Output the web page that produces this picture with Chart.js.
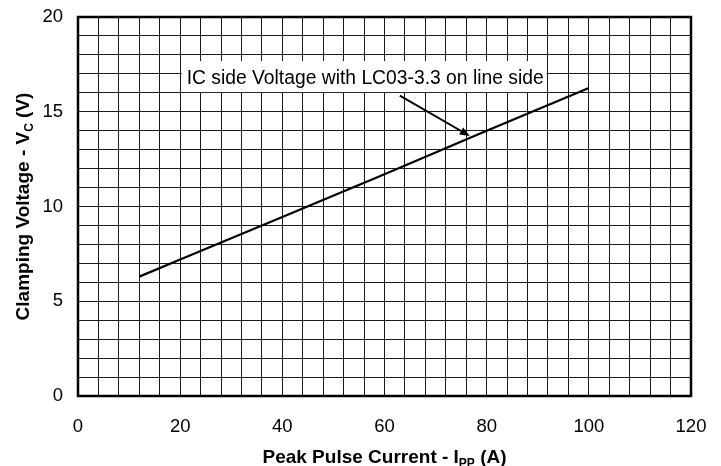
<!DOCTYPE html>
<html>
<head>
<meta charset="utf-8">
<script src="https://cdn.jsdelivr.net/npm/chart.js@4.4.1/dist/chart.umd.min.js"></script>
<style>
  html, body { margin: 0; padding: 0; background: #fff; }
  #wrap { width: 721px; height: 466px; }
</style>
</head>
<body>
<div id="wrap"><canvas id="chart" width="721" height="466"></canvas></div>
<script>
// data
const currentA = [12, 20, 40, 60, 80, 100];
const clampV = [6.3, 7.2, 9.45, 11.7, 14.0, 16.25];

const xTickLabels = [0, 20, 40, 60, 80, 100, 120];
const yTickLabels = [0, 5, 10, 15, 20];

const noteText = 'IC side Voltage with LC03-3.3 on line side';
const noteAt = { x: 20.3, y: 16.83 };       // left edge / middle of the label box
const arrowFrom = { x: 63.0, y: 15.85 };
const arrowTo = { x: 76.7, y: 13.72 };

const FONT = '"Liberation Sans", Arial, sans-serif';

function drawSubText(ctx, parts, x, y, align) {
  // parts: [text, isSub]
  const fontOf = p => p[1] ? 'bold 12px ' + FONT : 'bold 19px ' + FONT;
  const widths = parts.map(p => {
    ctx.font = fontOf(p);
    return ctx.measureText(p[0]).width;
  });
  const total = widths.reduce((a, b) => a + b, 0);
  let cx = align === 'center' ? x - total / 2 : x;
  parts.forEach((p, i) => {
    ctx.font = fontOf(p);
    ctx.fillText(p[0], cx, p[1] ? y + 4 : y);
    cx += widths[i];
  });
}

const decorPlugin = {
  id: 'decor',
  afterDatasetsDraw(chart) {
    const { ctx, chartArea: a, scales } = chart;
    const sx = scales.x, sy = scales.y;
    ctx.save();

    // frame
    ctx.strokeStyle = '#000';
    ctx.lineWidth = 2.5;
    ctx.strokeRect(a.left, a.top, a.right - a.left, a.bottom - a.top);

    // note box
    ctx.font = '19.3px ' + FONT;
    const tw = ctx.measureText(noteText).width;
    const bx = sx.getPixelForValue(noteAt.x);
    const by = sy.getPixelForValue(noteAt.y);
    ctx.fillStyle = '#fff';
    ctx.fillRect(bx, by - 16, tw + 8, 31);
    ctx.fillStyle = '#000';
    ctx.textBaseline = 'alphabetic';
    ctx.textAlign = 'left';
    ctx.fillText(noteText, bx + 5, by + 7);

    // arrow
    const x1 = sx.getPixelForValue(arrowFrom.x), y1 = sy.getPixelForValue(arrowFrom.y);
    const x2 = sx.getPixelForValue(arrowTo.x), y2 = sy.getPixelForValue(arrowTo.y);
    const ang = Math.atan2(y2 - y1, x2 - x1);
    ctx.lineWidth = 2;
    ctx.beginPath();
    ctx.moveTo(x1, y1);
    ctx.lineTo(x2 - 7 * Math.cos(ang), y2 - 7 * Math.sin(ang));
    ctx.stroke();
    ctx.beginPath();
    ctx.moveTo(x2, y2);
    ctx.lineTo(x2 - 10 * Math.cos(ang) + 4 * Math.sin(ang), y2 - 10 * Math.sin(ang) - 4 * Math.cos(ang));
    ctx.lineTo(x2 - 10 * Math.cos(ang) - 4 * Math.sin(ang), y2 - 10 * Math.sin(ang) + 4 * Math.cos(ang));
    ctx.closePath();
    ctx.fill();
    ctx.restore();
  },
  afterDraw(chart) {
    const { ctx, chartArea: a } = chart;
    ctx.save();
    ctx.fillStyle = '#000';
    ctx.textBaseline = 'alphabetic';
    ctx.textAlign = 'left';
    // x title
    drawSubText(ctx, [['Peak Pulse Current - I', false], ['PP', true], [' (A)', false]],
      (a.left + a.right) / 2, 463, 'center');
    // y title
    ctx.translate(29, (a.top + a.bottom) / 2);
    ctx.rotate(-Math.PI / 2);
    drawSubText(ctx, [['Clamping Voltage - V', false], ['C', true], [' (V)', false]], 0, 0, 'center');
    ctx.restore();
  }
};

new Chart(document.getElementById('chart'), {
  type: 'line',
  data: {
    datasets: [{
      data: currentA.map((x, i) => ({ x: x, y: clampV[i] })),
      borderColor: '#000',
      borderWidth: 2.2,
      pointRadius: 0,
      tension: 0,
      fill: false
    }]
  },
  options: {
    responsive: false,
    animation: false,
    layout: { padding: { top: 17, right: 30, left: 0, bottom: 0 } },
    plugins: {
      legend: { display: false },
      tooltip: { enabled: false }
    },
    scales: {
      x: {
        type: 'linear',
        min: 0,
        max: 120,
        afterFit: s => {
          s.height = 70;
          s.paddingLeft = 0;
          s.paddingRight = 0;
        },
        grid: { color: '#1a1a1a', lineWidth: 1, drawTicks: false },
        border: { display: false },
        ticks: {
          stepSize: 4,
          autoSkip: false,
          maxRotation: 0,
          padding: 20,
          color: '#000',
          font: { family: FONT, size: 18.5 },
          callback: v => xTickLabels.includes(v) ? String(v) : ''
        }
      },
      y: {
        type: 'linear',
        min: 0,
        max: 20,
        afterFit: s => {
          s.width = 78;
          s.paddingTop = 0;
          s.paddingBottom = 0;
        },
        grid: { color: '#1a1a1a', lineWidth: 1, drawTicks: false },
        border: { display: false },
        ticks: {
          stepSize: 1,
          autoSkip: false,
          padding: 15,
          color: '#000',
          font: { family: FONT, size: 18.5 },
          callback: v => yTickLabels.includes(v) ? String(v) : ''
        }
      }
    }
  },
  plugins: [decorPlugin]
});
</script>
</body>
</html>
